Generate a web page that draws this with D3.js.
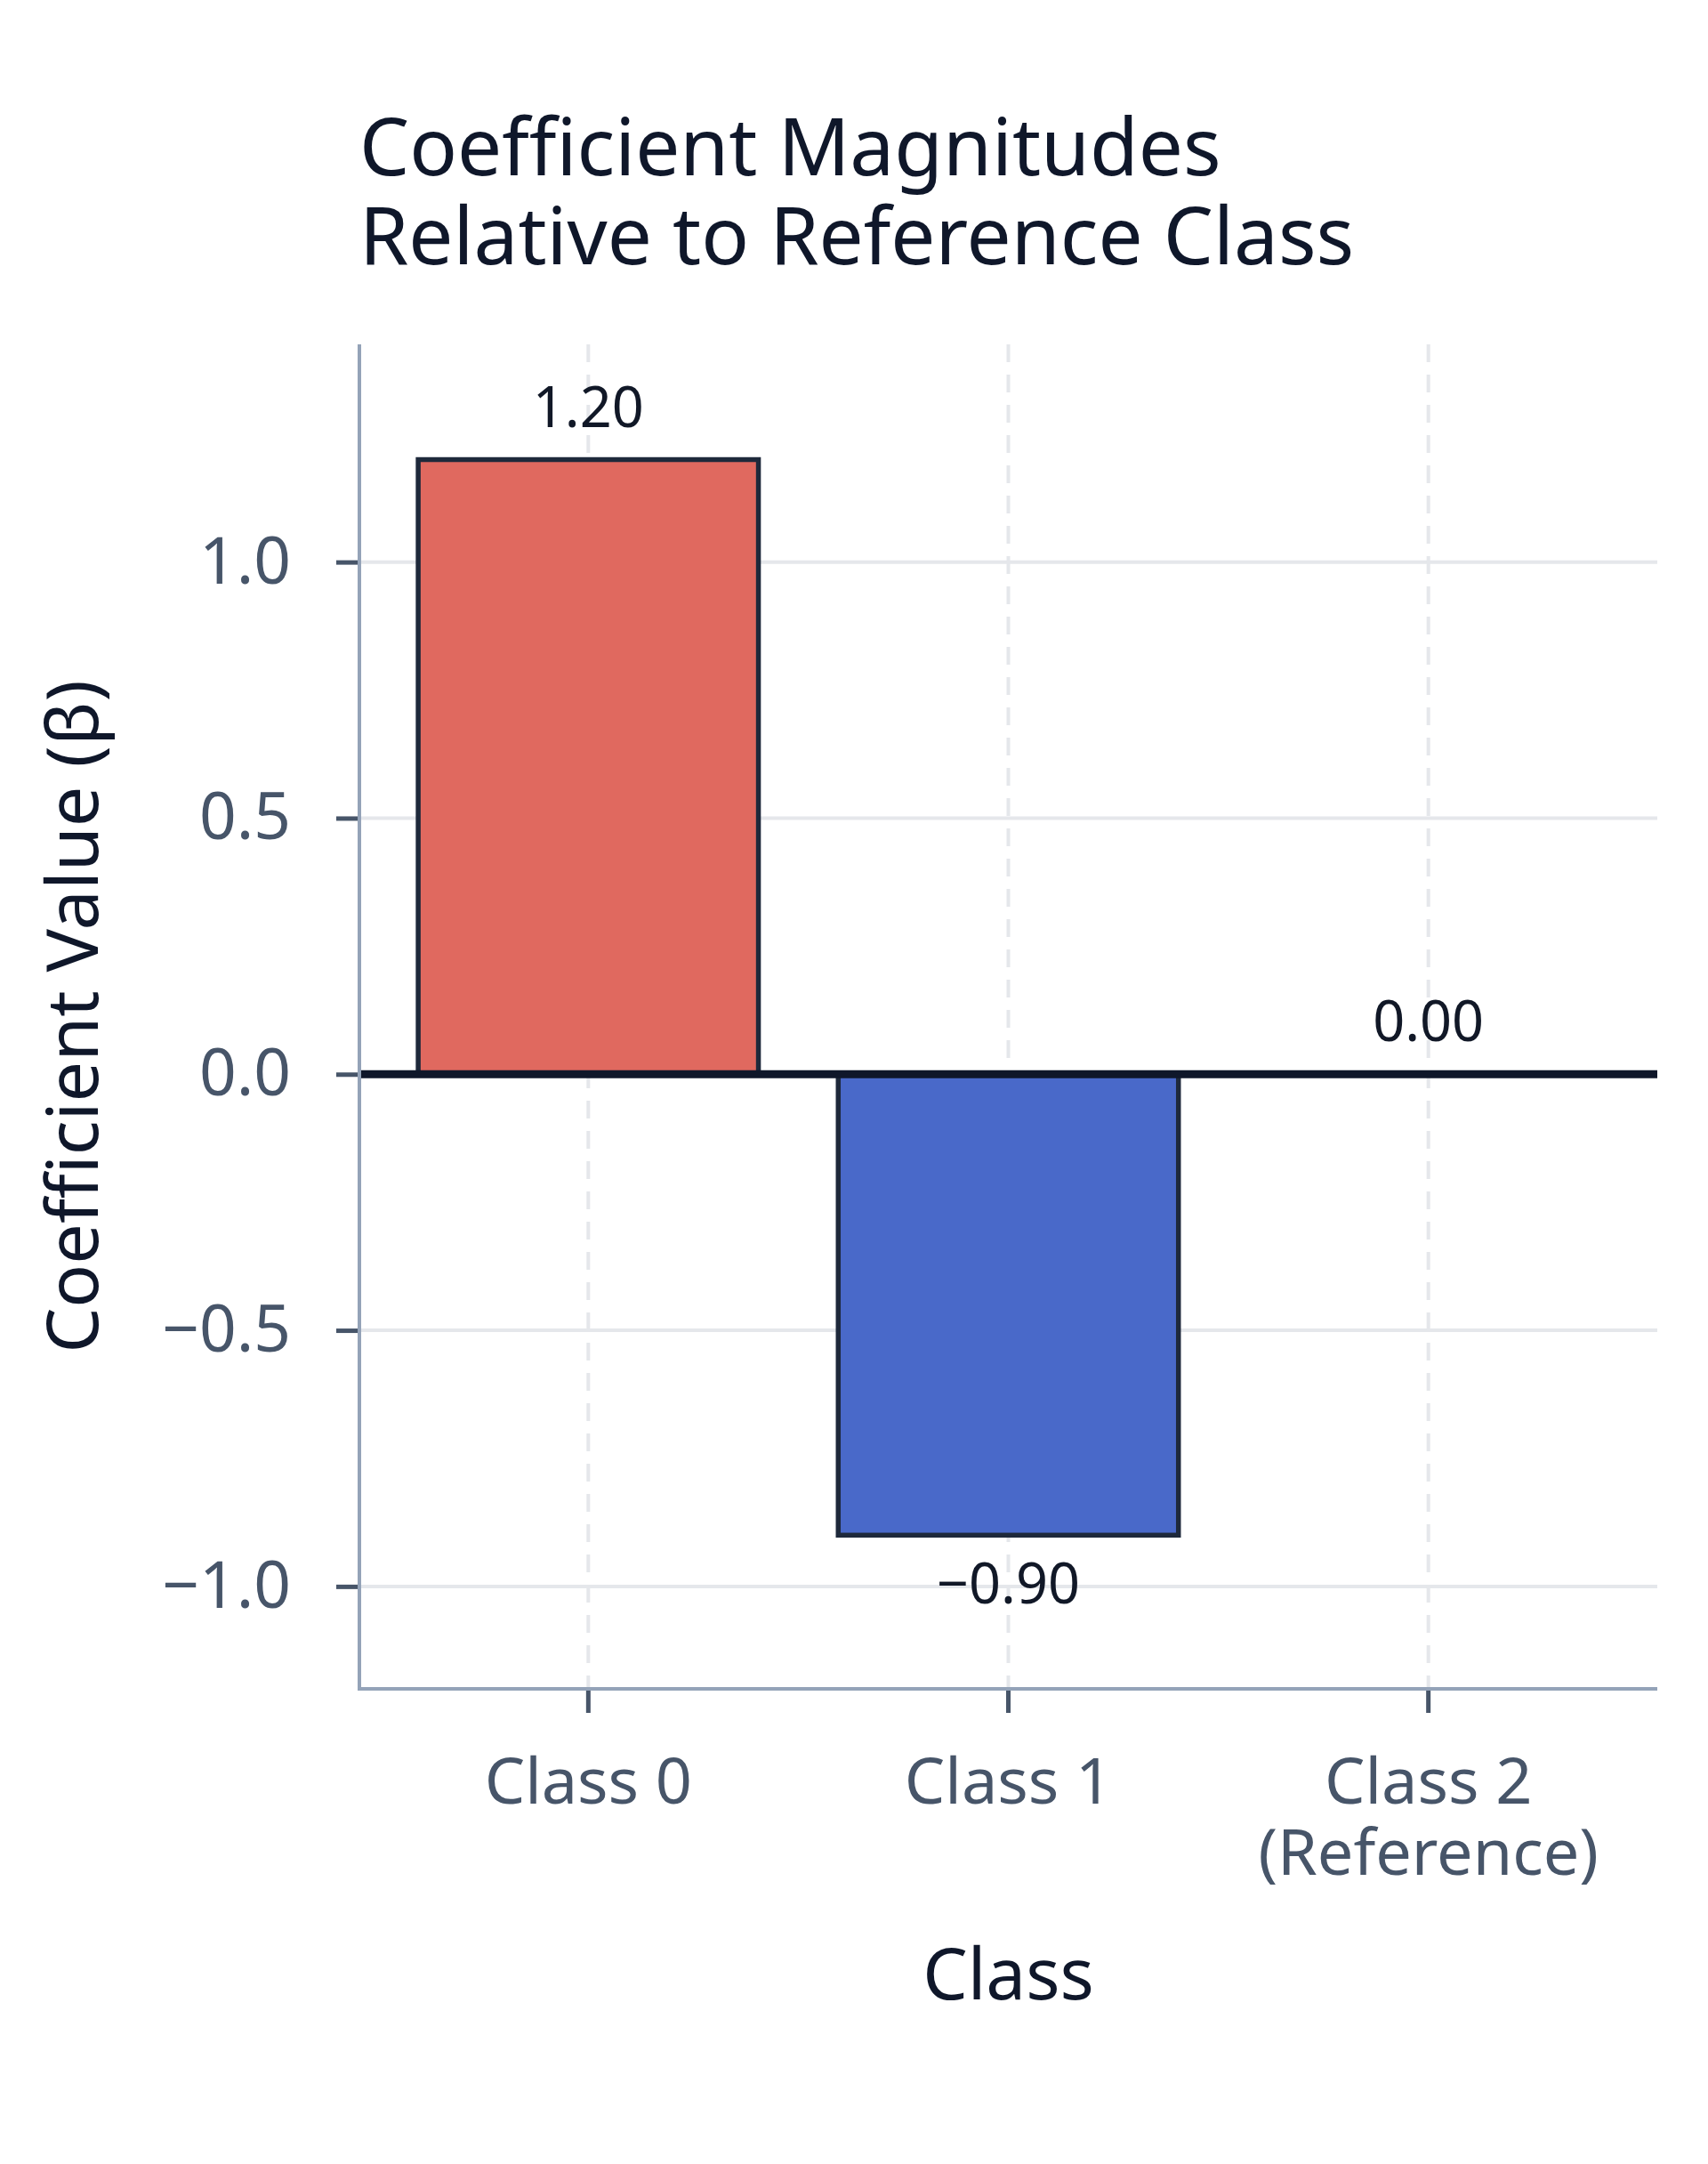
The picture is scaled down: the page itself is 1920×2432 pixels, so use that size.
<!DOCTYPE html>
<html>
<head>
<meta charset="utf-8">
<script src="https://cdn.jsdelivr.net/npm/d3@7"></script>
<style>
  body { margin: 0; background: #fff; }
  text { font-family: "Noto Sans", "Open Sans", sans-serif; }
</style>
</head>
<body>
<svg id="chart" width="1920" height="2432"></svg>
<script>
// chart data
const categories = ["Class 0", "Class 1", "Class 2"];
const tickLabels = [["Class 0"], ["Class 1"], ["Class 2", "(Reference)"]];
const coefValues = [1.20, -0.90, 0.00];
const yTicks = [-1.0, -0.5, 0.0, 0.5, 1.0];

const titleLines = ["Coefficient Magnitudes", "Relative to Reference Class"];

let svg = d3.select('#chart');

// plot area
let plotLeft = 404, plotRight = 1863, plotTop = 387, plotBottom = 1898;

let x = d3.scaleBand()
    .domain(categories)
    .range([plotLeft, plotRight])
    .paddingInner(0.19)
    .paddingOuter(0.14);

let y = d3.scaleLinear()
    .domain([-1.2, 1.425])
    .range([plotBottom, plotTop]);

let fill = function(v) { return v >= 0 ? '#E0695F' : '#4969C9'; };

// horizontal grid
svg.append('g').classed('hgrid', true)
    .selectAll('line')
    .data(yTicks)
    .enter().append('line')
        .attr('x1', plotLeft).attr('x2', plotRight)
        .attr('y1', d => y(d)).attr('y2', d => y(d))
        .attr('stroke', '#e5e7eb')
        .attr('stroke-width', 4);

// vertical dashed grid at class centers
svg.append('g').classed('vgrid', true)
    .selectAll('line')
    .data(categories)
    .enter().append('line')
        .attr('x1', d => x(d) + x.bandwidth() / 2)
        .attr('x2', d => x(d) + x.bandwidth() / 2)
        .attr('y1', plotTop).attr('y2', plotBottom)
        .attr('stroke', '#e5e7eb')
        .attr('stroke-width', 4)
        .attr('stroke-dasharray', '20,14');

// bars
let data = categories.map((c, i) => ({ cat: c, value: coefValues[i] }));

svg.append('g').classed('bars', true)
    .selectAll('rect')
    .data(data.filter(d => d.value !== 0))
    .enter().append('rect')
        .attr('x', d => x(d.cat))
        .attr('width', x.bandwidth())
        .attr('y', d => y(Math.max(0, d.value)))
        .attr('height', d => Math.abs(y(d.value) - y(0)))
        .attr('fill', d => fill(d.value))
        .attr('stroke', '#1e293b')
        .attr('stroke-width', 5.5);

// zero line
svg.append('line')
    .attr('x1', plotLeft).attr('x2', plotRight)
    .attr('y1', y(0)).attr('y2', y(0))
    .attr('stroke', '#0f172a')
    .attr('stroke-width', 9);

// value labels
svg.append('g').classed('values', true)
    .selectAll('text')
    .data(data)
    .enter().append('text')
        .attr('x', d => x(d.cat) + x.bandwidth() / 2)
        .attr('y', d => d.value >= 0 ? y(d.value) - 37 : y(d.value) + 77)
        .attr('text-anchor', 'middle')
        .attr('font-size', 63)
        .attr('fill', '#111827')
        .text(d => d3.format('.2f')(d.value));

// y axis
let yAxis = svg.append('g')
    .attr('transform', `translate(${plotLeft},0)`)
    .call(d3.axisLeft(y).tickValues(yTicks).tickFormat(d3.format('.1f'))
        .tickSize(26).tickPadding(51).tickSizeOuter(0));
yAxis.select('.domain').remove();
yAxis.selectAll('.tick line').attr('stroke', '#475569').attr('stroke-width', 5);
yAxis.selectAll('.tick text')
    .attr('font-size', 73)
    .attr('fill', '#475569')
    .attr('font-family', '"Noto Sans", sans-serif');

// x axis ticks
let xAxis = svg.append('g')
    .attr('transform', `translate(0,${plotBottom})`)
    .call(d3.axisBottom(x).tickSize(27).tickFormat('').tickSizeOuter(0));
xAxis.select('.domain').remove();
xAxis.selectAll('.tick line').attr('stroke', '#475569').attr('stroke-width', 5);

// axis lines
svg.append('line')
    .attr('x1', plotLeft).attr('x2', plotLeft)
    .attr('y1', plotTop).attr('y2', plotBottom)
    .attr('stroke', '#94a3b8').attr('stroke-width', 4);
svg.append('line')
    .attr('x1', plotLeft - 2).attr('x2', plotRight)
    .attr('y1', plotBottom).attr('y2', plotBottom)
    .attr('stroke', '#94a3b8').attr('stroke-width', 4);

// x tick labels (multi-line)
let xl = svg.append('g').classed('xlabels', true)
    .selectAll('text')
    .data(categories)
    .enter().append('text')
        .attr('text-anchor', 'middle')
        .attr('font-size', 72)
        .attr('fill', '#475569');
xl.each(function(d, i) {
    let t = d3.select(this);
    tickLabels[i].forEach((line, j) => {
        t.append('tspan')
            .attr('x', x(d) + x.bandwidth() / 2)
            .attr('y', plotBottom + 129 + j * 80)
            .text(line);
    });
});

// axis titles
svg.append('text')
    .attr('x', (plotLeft + plotRight) / 2)
    .attr('y', 2247)
    .attr('text-anchor', 'middle')
    .attr('font-size', 80)
    .attr('fill', '#0f172a')
    .text('Class');

svg.append('text')
    .attr('transform', `translate(110,${(plotTop + plotBottom) / 2}) rotate(-90)`)
    .attr('text-anchor', 'middle')
    .attr('font-size', 81)
    .attr('fill', '#0f172a')
    .text('Coefficient Value (β)');

// title
svg.append('g').selectAll('text')
    .data(titleLines)
    .enter().append('text')
        .attr('x', plotLeft)
        .attr('y', (d, i) => 197 + i * 100)
        .attr('font-size', 89)
        .attr('fill', '#0f172a')
        .text(d => d);
</script>
</body>
</html>
